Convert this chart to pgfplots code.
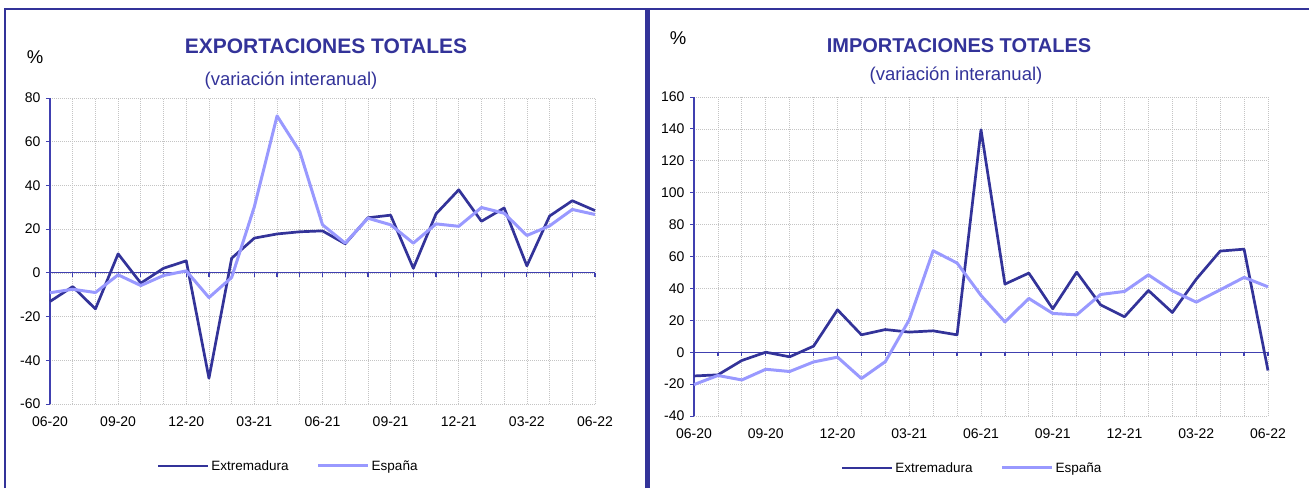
\documentclass[border=0pt]{standalone}
\usepackage{fontspec}
\setmainfont{Liberation Sans}
\usepackage{pgfplots}
\pgfplotsset{compat=1.18}
\definecolor{dark}{HTML}{333399}
\definecolor{light}{HTML}{9999FF}
\definecolor{axblue}{HTML}{4040B0}
\definecolor{gridgray}{HTML}{C4C4C4}

\pgfplotsset{
 mystyle/.style={
  scale only axis,
  xmin=0, xmax=24,
  axis x line*=bottom, axis y line*=left,
  separate axis lines,
  x axis line style={draw=none},
  y axis line style={draw=axblue, line width=1.2pt},
  xtick={0,3,...,24},
  xticklabels={06-20,09-20,12-20,03-21,06-21,09-21,12-21,03-22,06-22},
  minor xtick={0,...,24},
  xtick style={draw=none},
  minor tick length=0pt,
  grid=both,
  major grid style={gridgray, line width=0.7pt, dash pattern=on 1pt off 1pt},
  minor grid style={gridgray, line width=0.7pt, dash pattern=on 1pt off 1pt},
  ytick style={draw=axblue, line width=1pt},
  tick align=outside,
  major tick length=4pt,
  ticklabel style={font=\fontsize{14}{16}\selectfont, text=black},
  /pgf/number format/assume math mode=true,
  xticklabel style={yshift=-5pt},
  yticklabel style={xshift=-2pt},
  legend style={draw=none, fill=none, font=\fontsize{13.5}{15}\selectfont, legend columns=2,
    /tikz/every even column/.append style={column sep=26pt}},
  legend image code/.code={\draw[#1] (0pt,0pt) -- (50pt,0pt);},
  clip=false,
 },
 ext/.style={dark, line width=2.7pt, line join=round},
 esp/.style={light, line width=3pt, line join=round},
}

\pgfplotstableread{
i ext esp
0 -13.1 -9.1
1 -6.3 -7.5
2 -16.5 -9.0
3 8.7 -0.9
4 -4.7 -5.8
5 2.1 -1.2
6 5.5 0.9
7 -48.2 -11.3
8 6.7 -2.1
9 15.9 30.3
10 17.8 71.8
11 18.8 55.5
12 19.2 22.0
13 13.3 13.6
14 25.2 25.0
15 26.4 22.0
16 2.1 13.6
17 27.0 22.4
18 38.0 21.3
19 23.6 29.9
20 29.7 27.3
21 3.2 17.1
22 26.0 21.5
23 33.0 29.0
24 28.5 26.7
}\expdata

\pgfplotstableread{
i ext esp
0 -14.9 -20.3
1 -14.2 -14.6
2 -5.2 -17.4
3 0.0 -10.7
4 -2.9 -12.1
5 3.8 -6.1
6 26.6 -3.1
7 10.9 -16.5
8 14.2 -5.9
9 12.6 20.3
10 13.4 63.6
11 10.9 55.9
12 139.5 35.6
13 42.7 19.0
14 49.6 33.7
15 27.2 24.3
16 50.2 23.4
17 29.7 36.2
18 22.2 38.1
19 38.7 48.5
20 24.9 38.5
21 45.8 31.4
22 63.4 39.1
23 64.6 46.9
24 -11.5 41.0
}\impdata

\begin{document}
\begin{tikzpicture}
\path[use as bounding box] (0,0) rectangle (1309pt,488pt);
% frames
\draw[dark, line width=2pt] (5pt,0) -- (5pt,478.5pt) -- (1309pt,478.5pt);
\draw[dark, line width=4.5pt] (647.5pt,0) -- (647.5pt,478.5pt);

% titles left
\node[anchor=base, text=dark, font=\fontsize{21}{24}\selectfont\bfseries, inner sep=0] at (326pt,434.7pt) {EXPORTACIONES TOTALES};
\node[anchor=base, text=dark, font=\fontsize{18.5}{22}\selectfont, inner sep=0] at (291pt,402.8pt) {(variación interanual)};
\node[anchor=base, font=\fontsize{18.5}{22}\selectfont, inner sep=0] at (35pt,424.7pt) {\%};
% titles right
\node[anchor=base, text=dark, font=\fontsize{20}{24}\selectfont\bfseries, inner sep=0] at (959pt,435.3pt) {IMPORTACIONES TOTALES};
\node[anchor=base, text=dark, font=\fontsize{18.5}{22}\selectfont, inner sep=0] at (956pt,407.8pt) {(variación interanual)};
\node[anchor=base, font=\fontsize{18.5}{22}\selectfont, inner sep=0] at (678pt,443pt) {\%};

\begin{axis}[mystyle, at={(50pt,84pt)}, anchor=south west, width=545pt, height=306pt,
  ymin=-60, ymax=80, ytick={-60,-40,...,80},
  legend style={at={(0.19,-0.2026)}, anchor=west}]
  \draw[axblue, line width=1.2pt] (axis cs:0,0) -- (axis cs:24,0);
  \pgfplotsinvokeforeach{0,...,24}{\draw[axblue, line width=1.2pt] (axis cs:#1,0) -- ([yshift=-4pt]axis cs:#1,0);}
  \addplot[ext] table[x=i, y=ext] {\expdata};
  \addlegendentry{Extremadura}
  \addplot[esp] table[x=i, y=esp] {\expdata};
  \addlegendentry{España}
\end{axis}

\begin{axis}[mystyle, at={(694pt,72pt)}, anchor=south west, width=574pt, height=319pt,
  ymin=-40, ymax=160, ytick={-40,-20,...,160},
  legend style={at={(0.25,-0.163)}, anchor=west}]
  \draw[axblue, line width=1.2pt] (axis cs:0,0) -- (axis cs:24,0);
  \pgfplotsinvokeforeach{0,...,24}{\draw[axblue, line width=1.2pt] (axis cs:#1,0) -- ([yshift=-4pt]axis cs:#1,0);}
  \addplot[ext] table[x=i, y=ext] {\impdata};
  \addlegendentry{Extremadura}
  \addplot[esp] table[x=i, y=esp] {\impdata};
  \addlegendentry{España}
\end{axis}
\end{tikzpicture}
\end{document}
